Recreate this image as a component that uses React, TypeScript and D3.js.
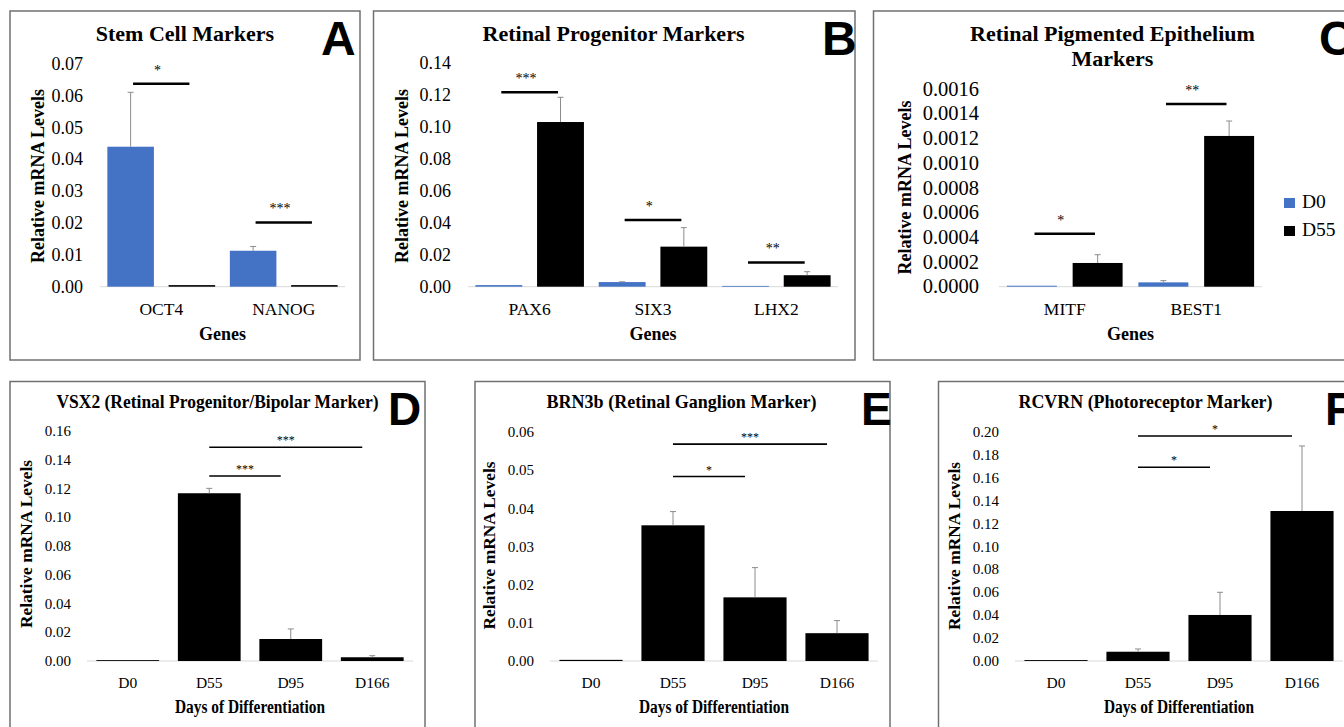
import * as d3 from 'd3'

// series / groups
const SERIES = ['D0', 'D55']
const SERIES_COLORS = ['#4472C4', '#000000']
const DAYS = ['D0', 'D55', 'D95', 'D166']

// A - stem cell markers
const stemGenes = ['OCT4', 'NANOG']
const stemD0 = [0.0440, 0.0113]
const stemD0Err = [0.0171, 0.00135]
const stemD55 = [0.0005, 0.0005]
const stemD55Err = [0, 0]
const stemSig = ['*', '***']
const stemSigAt = [0.0638, 0.0202]
const stemTicks = [0, 0.01, 0.02, 0.03, 0.04, 0.05, 0.06, 0.07]

// B - retinal progenitor markers
const progGenes = ['PAX6', 'SIX3', 'LHX2']
const progD0 = [0.001, 0.0029, 0.0005]
const progD0Err = [0, 0.0002, 0]
const progD55 = [0.1032, 0.0251, 0.0072]
const progD55Err = [0.0155, 0.0119, 0.0022]
const progSig = ['***', '*', '**']
const progSigAt = [0.1218, 0.0418, 0.0152]
const progTicks = [0, 0.02, 0.04, 0.06, 0.08, 0.10, 0.12, 0.14]

// C - RPE markers
const rpeGenes = ['MITF', 'BEST1']
const rpeD0 = [0.000008, 0.000035]
const rpeD0Err = [0, 0.000014]
const rpeD55 = [0.000192, 0.00122]
const rpeD55Err = [0.000067, 0.000121]
const rpeSig = ['*', '**']
const rpeSigAt = [0.000428, 0.001479]
const rpeTicks = [0, 0.0002, 0.0004, 0.0006, 0.0008, 0.0010, 0.0012, 0.0014, 0.0016]

// D - VSX2
const vsx2 = [0.0006, 0.1167, 0.0153, 0.0026]
const vsx2Err = [0, 0.0034, 0.0070, 0.0011]
const vsx2SigFrom = [1, 1]
const vsx2SigTo = [3, 2]
const vsx2SigAt = [0.1487, 0.1287]
const vsx2Sig = ['***', '***']
const vsx2Ticks = [0, 0.02, 0.04, 0.06, 0.08, 0.10, 0.12, 0.14, 0.16]

// E - BRN3b
const brn3b = [0.0003, 0.0356, 0.0167, 0.0073]
const brn3bErr = [0, 0.0036, 0.0078, 0.0033]
const brn3bSigFrom = [1, 1]
const brn3bSigTo = [3, 2]
const brn3bSigAt = [0.0569, 0.0484]
const brn3bSig = ['***', '*']
const brn3bTicks = [0, 0.01, 0.02, 0.03, 0.04, 0.05, 0.06]

// F - RCVRN
const rcvrn = [0.0008, 0.0081, 0.0402, 0.131]
const rcvrnErr = [0, 0.0024, 0.0198, 0.0568]
const rcvrnSigFrom = [1, 1]
const rcvrnSigTo = [3, 2]
const rcvrnSigAt = [0.1965, 0.1692]
const rcvrnSig = ['*', '*']
const rcvrnTicks = [0, 0.02, 0.04, 0.06, 0.08, 0.10, 0.12, 0.14, 0.16, 0.18, 0.20]

const SERIF = '"Liberation Serif", "Times New Roman", serif'
const SANS = '"Liberation Sans", Arial, sans-serif'
const FRAME = '#707070'
const AXIS = '#d9d9d9'
const ERR = '#8c8c8c'

function ErrorBar({ x, y0, y1 }: { x: number; y0: number; y1: number }) {
  return (
    <g stroke={ERR} strokeWidth={1}>
      <line x1={x} x2={x} y1={y0} y2={y1} />
      <line x1={x - 3} x2={x + 3} y1={y1} y2={y1} />
    </g>
  )
}

type Box = { x: number; y: number; w: number; h: number }

function Frame({ box, letter, lx, ly, size }: { box: Box; letter: string; lx: number; ly: number; size: number }) {
  return (
    <g>
      <rect x={box.x} y={box.y} width={box.w} height={box.h} fill="#fff" stroke={FRAME} strokeWidth={1.5} />
      <text x={lx} y={ly} fontFamily={SANS} fontWeight="bold" fontSize={size} fill="#000">{letter}</text>
    </g>
  )
}

function YLabel({ x, y, size, len }: { x: number; y: number; size: number; len?: number }) {
  return (
    <text transform={`translate(${x},${y}) rotate(-90)`} textAnchor="middle" fontFamily={SERIF}
      fontWeight="bold" fontSize={size} textLength={len} lengthAdjust={len ? 'spacingAndGlyphs' : undefined}>
      Relative mRNA Levels
    </text>
  )
}

type GroupProps = {
  box: Box; letter: string; lx: number
  title: string[]; titleX: number
  cats: string[]; d0: number[]; d0Err: number[]; d55: number[]; d55Err: number[]
  sig: string[]; sigAt: number[]; ticks: number[]; fmt: string
  left: number; right: number; top: number; base: number
  tickX: number; tickSize: number; yLabelX: number; yLabelY: number
  legend?: { x: number; y: number }
}

function GroupPanel(p: GroupProps) {
  const yMax = p.ticks[p.ticks.length - 1]
  const x0 = d3.scaleBand<string>().domain(p.cats).range([p.left, p.right])
  const x1 = d3.scaleBand<string>().domain(SERIES).range([0, x0.bandwidth()]).paddingInner(0.24).paddingOuter(0.12)
  const y = d3.scaleLinear().domain([0, yMax]).range([p.base, p.top])
  const fmt = d3.format(p.fmt)
  const series = [
    { vals: p.d0, errs: p.d0Err },
    { vals: p.d55, errs: p.d55Err },
  ]
  const bw = x0.bandwidth()
  return (
    <g>
      <Frame box={p.box} letter={p.letter} lx={p.lx} ly={55} size={48} />
      {p.title.map((t, i) => (
        <text key={t} x={p.titleX} y={41 + i * 25} textAnchor="middle" fontFamily={SERIF} fontWeight="bold" fontSize={22}>{t}</text>
      ))}
      {p.ticks.map(t => (
        <text key={t} x={p.tickX} y={y(t) + p.tickSize * 0.33} textAnchor="end" fontFamily={SERIF} fontSize={p.tickSize}>{fmt(t)}</text>
      ))}
      <line x1={p.left} x2={p.right} y1={p.base} y2={p.base} stroke={AXIS} strokeWidth={1} />
      {series.map((s, si) => (
        <g key={si}>
          {p.cats.map((c, ci) => {
            const bx = (x0(c) as number) + (x1(SERIES[si]) as number)
            return (
              <rect key={c} x={bx} y={y(s.vals[ci])} width={x1.bandwidth()} height={p.base - y(s.vals[ci])} fill={SERIES_COLORS[si]} />
            )
          })}
        </g>
      ))}
      {series.map((s, si) => p.cats.map((c, ci) => {
        if (!s.errs[ci]) return null
        const cx = (x0(c) as number) + (x1(SERIES[si]) as number) + x1.bandwidth() / 2
        return <ErrorBar key={`${si}-${c}`} x={cx} y0={y(s.vals[ci])} y1={y(s.vals[ci] + s.errs[ci])} />
      }))}
      {p.cats.map((c, ci) => {
        const cx = (x0(c) as number) + bw / 2
        const ly = y(p.sigAt[ci])
        return (
          <g key={c}>
            <line x1={cx - bw * 0.23} x2={cx + bw * 0.23} y1={ly} y2={ly} stroke="#000" strokeWidth={2.5} />
            <text x={cx - bw * 0.03} y={ly - 9} textAnchor="middle" fontFamily={SERIF} fontSize={14}>{p.sig[ci]}</text>
            <text x={cx} y={315} textAnchor="middle" fontFamily={SERIF} fontSize={17.5}>{c}</text>
          </g>
        )
      })}
      <text x={(p.left + p.right) / 2} y={340} textAnchor="middle" fontFamily={SERIF} fontWeight="bold" fontSize={18}>Genes</text>
      <YLabel x={p.yLabelX} y={p.yLabelY} size={18} />
      {p.legend && SERIES.map((s, i) => (
        <g key={s}>
          <rect x={p.legend!.x} y={p.legend!.y + i * 28 - 10} width={11} height={10} fill={SERIES_COLORS[i]} />
          <text x={p.legend!.x + 18} y={p.legend!.y + i * 28} fontFamily={SERIF} fontSize={19.5}>{s}</text>
        </g>
      ))}
    </g>
  )
}

type TimeProps = {
  box: Box; letter: string; lx: number
  title: string; titleX: number; titleLen: number
  vals: number[]; errs: number[]
  sigFrom: number[]; sigTo: number[]; sigAt: number[]; sig: string[]
  ticks: number[]
  left: number; right: number; top: number; base: number
  tickX: number; yLabelX: number; yLabelY: number
}

function TimePanel(p: TimeProps) {
  const yMax = p.ticks[p.ticks.length - 1]
  const x = d3.scaleBand<string>().domain(DAYS).range([p.left, p.right]).paddingInner(0.23).paddingOuter(0.115)
  const y = d3.scaleLinear().domain([0, yMax]).range([p.base, p.top])
  const fmt = d3.format('.2f')
  const bw = x.bandwidth()
  const cx = (i: number) => (x(DAYS[i]) as number) + bw / 2
  return (
    <g>
      <Frame box={p.box} letter={p.letter} lx={p.lx} ly={425} size={46} />
      <text x={p.titleX} y={408} textAnchor="middle" fontFamily={SERIF} fontWeight="bold" fontSize={19}
        textLength={p.titleLen} lengthAdjust="spacingAndGlyphs">{p.title}</text>
      {p.ticks.map(t => (
        <text key={t} x={p.tickX} y={y(t) + 5} textAnchor="end" fontFamily={SERIF} fontSize={15}>{fmt(t)}</text>
      ))}
      <line x1={p.left} x2={p.right} y1={p.base} y2={p.base} stroke={AXIS} strokeWidth={1} />
      {DAYS.map((d, i) => (
        <rect key={d} x={x(d)} y={y(p.vals[i])} width={bw} height={p.base - y(p.vals[i])} fill="#000" />
      ))}
      {DAYS.map((d, i) => p.errs[i] ? (
        <ErrorBar key={d} x={cx(i)} y0={y(p.vals[i])} y1={y(p.vals[i] + p.errs[i])} />
      ) : null)}
      {p.sig.map((s, i) => {
        const x1 = cx(p.sigFrom[i])
        const x2 = cx(p.sigTo[i]) - 10
        const ly = y(p.sigAt[i])
        return (
          <g key={i}>
            <line x1={x1} x2={x2} y1={ly} y2={ly} stroke="#000" strokeWidth={1.7} />
            <text x={(x1 + x2) / 2} y={ly - 3} textAnchor="middle" fontFamily={SERIF} fontSize={12}>{s}</text>
          </g>
        )
      })}
      {DAYS.map((d, i) => (
        <text key={d} x={cx(i)} y={688} textAnchor="middle" fontFamily={SERIF} fontSize={15.5}>{d}</text>
      ))}
      <text x={(p.left + p.right) / 2} y={713} textAnchor="middle" fontFamily={SERIF} fontWeight="bold" fontSize={18}
        textLength={150} lengthAdjust="spacingAndGlyphs">Days of Differentiation</text>
      <YLabel x={p.yLabelX} y={p.yLabelY} size={17} len={168} />
    </g>
  )
}

export default function App() {
  return (
    <div style={{ position: 'absolute', left: 0, top: 0, width: 1344, height: 727, overflow: 'hidden', background: '#fff' }}>
      <svg width={1344} height={727} style={{ display: 'block' }}>
        <rect width={1344} height={727} fill="#fff" />
        <GroupPanel box={{ x: 10, y: 11, w: 350, h: 349 }} letter="A" lx={321}
          title={['Stem Cell Markers']} titleX={185}
          cats={stemGenes} d0={stemD0} d0Err={stemD0Err} d55={stemD55} d55Err={stemD55Err}
          sig={stemSig} sigAt={stemSigAt} ticks={stemTicks} fmt=".2f"
          left={100} right={345} top={64} base={286.7}
          tickX={83} tickSize={18} yLabelX={44} yLabelY={176} />
        <GroupPanel box={{ x: 373.5, y: 11, w: 481.5, h: 349 }} letter="B" lx={822}
          title={['Retinal Progenitor Markers']} titleX={613.5}
          cats={progGenes} d0={progD0} d0Err={progD0Err} d55={progD55} d55Err={progD55Err}
          sig={progSig} sigAt={progSigAt} ticks={progTicks} fmt=".2f"
          left={468} right={838} top={63.3} base={286.7}
          tickX={451} tickSize={18} yLabelX={408} yLabelY={176} />
        <GroupPanel box={{ x: 873.5, y: 11, w: 490, h: 349 }} letter="C" lx={1319}
          title={['Retinal Pigmented Epithelium', 'Markers']} titleX={1112.5}
          cats={rpeGenes} d0={rpeD0} d0Err={rpeD0Err} d55={rpeD55} d55Err={rpeD55Err}
          sig={rpeSig} sigAt={rpeSigAt} ticks={rpeTicks} fmt=".4f"
          left={999} right={1262} top={89} base={286.7}
          tickX={979} tickSize={20.5} yLabelX={911} yLabelY={187.5}
          legend={{ x: 1284, y: 208 }} />
        <TimePanel box={{ x: 10, y: 381.5, w: 415, h: 360 }} letter="D" lx={388}
          title="VSX2 (Retinal Progenitor/Bipolar Marker)" titleX={217.5} titleLen={322}
          vals={vsx2} errs={vsx2Err} sigFrom={vsx2SigFrom} sigTo={vsx2SigTo} sigAt={vsx2SigAt} sig={vsx2Sig}
          ticks={vsx2Ticks} left={87} right={413} top={431} base={661}
          tickX={71} yLabelX={32} yLabelY={544} />
        <TimePanel box={{ x: 475, y: 381.5, w: 415, h: 360 }} letter="E" lx={861}
          title="BRN3b (Retinal Ganglion Marker)" titleX={681.5} titleLen={270}
          vals={brn3b} errs={brn3bErr} sigFrom={brn3bSigFrom} sigTo={brn3bSigTo} sigAt={brn3bSigAt} sig={brn3bSig}
          ticks={brn3bTicks} left={550} right={878} top={432.3} base={661}
          tickX={534} yLabelX={495} yLabelY={545.5} />
        <TimePanel box={{ x: 938.5, y: 381.5, w: 430, h: 360 }} letter="F" lx={1325}
          title="RCVRN (Photoreceptor Marker)" titleX={1145.5} titleLen={254}
          vals={rcvrn} errs={rcvrnErr} sigFrom={rcvrnSigFrom} sigTo={rcvrnSigTo} sigAt={rcvrnSigAt} sig={rcvrnSig}
          ticks={rcvrnTicks} left={1015} right={1343} top={432} base={661}
          tickX={999} yLabelX={960} yLabelY={546} />
      </svg>
    </div>
  )
}
